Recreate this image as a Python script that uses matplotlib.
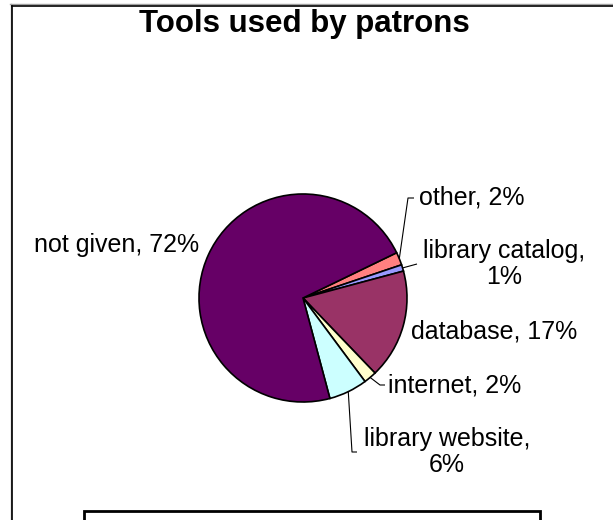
import matplotlib
matplotlib.use("Agg")
import matplotlib.pyplot as plt
import numpy as np
from matplotlib.patches import Rectangle
from matplotlib.lines import Line2D

plt.rcParams['font.family'] = ['Liberation Sans', 'DejaVu Sans']

title = "Tools used by patrons"
categories = ["other", "library catalog", "database", "internet", "library website", "not given"]
values = [2, 1, 17, 2, 6, 72]
colors = ["#FF8080", "#9999FF", "#993366", "#FFFFCC", "#CCFFFF", "#660066"]

W, H = 613, 520
fig = plt.figure(figsize=(W / 100, H / 100), dpi=100)
ax = fig.add_axes([0, 0, 1, 1])

def Y(y):  # convert y-down pixel to y-up data
    return H - y

cx, cy, R = 303, Y(298), 104
wedges, _ = ax.pie(values, colors=colors, startangle=25.8, counterclock=False,
                   center=(cx, cy), radius=R,
                   wedgeprops=dict(edgecolor="black", linewidth=1.2))
ax.set_xlim(0, W)
ax.set_ylim(0, H)
ax.set_aspect("auto")
ax.axis("off")

fs = 18
tot = sum(values)
labels = [f"{c}, {round(v / tot * 100)}%" for c, v in zip(categories, values)]

layout = {
    "other": dict(xy=(472, 198), text=labels[0], pts=[(408, 198), (414, 198)]),
    "library catalog": dict(xy=(504, 264), text="library catalog,\n" + labels[1].split(", ")[1], pts=[(417, 264)]),
    "database": dict(xy=(494, 332), text=labels[2], pts=None),
    "internet": dict(xy=(455, 386), text=labels[3], pts=[(380, 385), (385, 385)]),
    "library website": dict(xy=(447, 452), text="library website,\n" + labels[4].split(", ")[1], pts=[(352, 452), (357, 452)]),
    "not given": dict(xy=(117, 245), text=labels[5], pts=None),
}

for w, cat in zip(wedges, categories):
    L = layout[cat]
    ax.text(L["xy"][0], Y(L["xy"][1]), L["text"], ha="center", va="center",
            fontsize=fs, color="black", linespacing=1.15)
    if L["pts"]:
        mid = np.deg2rad((w.theta1 + w.theta2) / 2)
        ax0 = cx + R * np.cos(mid)
        ay0 = cy + R * np.sin(mid)
        xs = [ax0] + [p[0] for p in L["pts"]]
        ys = [ay0] + [Y(p[1]) for p in L["pts"]]
        ax.plot(xs, ys, color="black", lw=0.8, solid_capstyle="butt")

ax.text(304, Y(32), title, ha="center", va="baseline", fontsize=22.5, fontweight="bold")

# chart area border (with light shadow)
fig.add_artist(Line2D([11 / W, 11 / W], [0, 1 - 4 / H], color="#A0A0A0", lw=1.0, transform=fig.transFigure))
fig.add_artist(Line2D([10 / W, 1], [1 - 4 / H, 1 - 4 / H], color="#A0A0A0", lw=1.0, transform=fig.transFigure))
fig.add_artist(Line2D([12 / W, 12 / W], [0, 1 - 5.5 / H], color="black", lw=1.2, transform=fig.transFigure))
fig.add_artist(Line2D([11.5 / W, 1], [1 - 5.5 / H, 1 - 5.5 / H], color="black", lw=1.2, transform=fig.transFigure))

# empty legend box
fig.add_artist(Rectangle((84 / W, -0.05), (540 - 84) / W, (0.05 + (H - 511) / H),
                         transform=fig.transFigure, fill=False, edgecolor="black", lw=2.0))

fig.savefig("out.png", dpi=100, facecolor="white")
